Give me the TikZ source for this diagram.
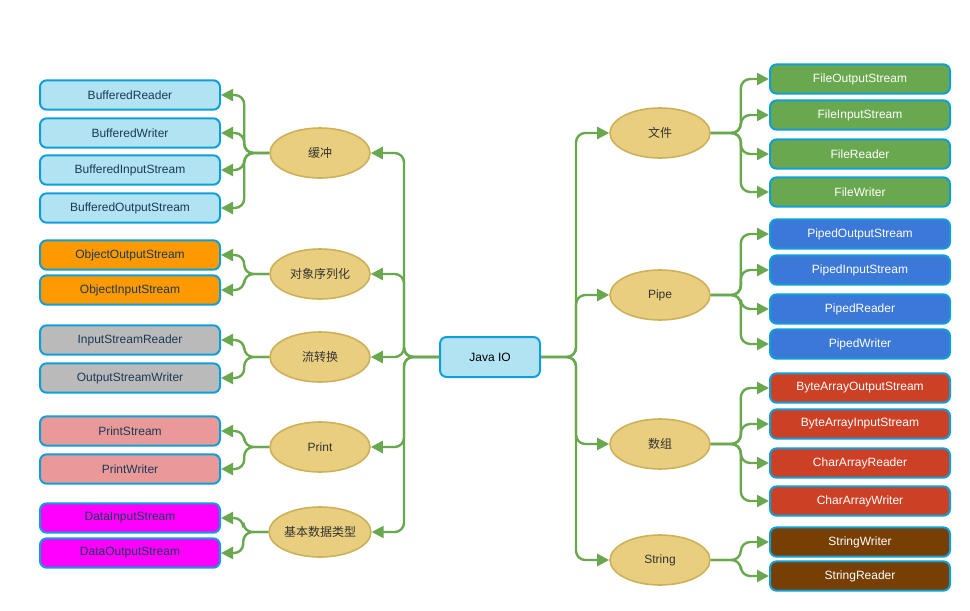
\documentclass[tikz,border=0pt]{standalone}
\usepackage{fontspec}
\setmainfont{Liberation Sans}
\newfontfamily\cjk{Noto Sans CJK SC}
\usetikzlibrary{arrows.meta,shapes.geometric}
\definecolor{lblue}{HTML}{B1E3F3}
\definecolor{bstroke}{HTML}{0E9FD8}
\definecolor{dtext}{HTML}{1B3A57}
\definecolor{corange}{HTML}{FF9900}
\definecolor{cgray}{HTML}{BABABA}
\definecolor{cpink}{HTML}{EA9999}
\definecolor{cmag}{HTML}{FF00FF}
\definecolor{cgreen}{HTML}{6AA84F}
\definecolor{cblue}{HTML}{3C78D8}
\definecolor{cred}{HTML}{CC4125}
\definecolor{cbrown}{HTML}{783F04}
\definecolor{efill}{HTML}{E8CE7E}
\definecolor{estroke}{HTML}{CDB15A}
\definecolor{edge}{HTML}{6AA84F}
\tikzset{
  leaf/.style={draw=bstroke, line width=1.5pt, rounded corners=5pt, minimum width=135pt, minimum height=22pt, inner sep=0pt, font=\fontsize{9}{11}\selectfont},
  lightleaf/.style={leaf, text=dtext},
  darkleaf/.style={leaf, text=white},
  cat/.style={ellipse, draw=estroke, fill=efill, line width=1.2pt, minimum width=75pt, minimum height=37.5pt, inner sep=0pt, text=black!80, font=\fontsize{9}{11}\selectfont},
  rootbox/.style={leaf, fill=lblue, minimum width=75pt, minimum height=30pt},
  conn/.style={draw=edge, line width=1.8pt, rounded corners=7pt, -{Triangle[length=9pt,width=9pt]}},
}
\begin{document}
\begin{tikzpicture}[x=0.75pt,y=-0.75pt]
\useasboundingbox (0,0) rectangle (970,610);
% root
\node[rootbox] (jio) at (490,357) {Java IO};
% left categories
\node[cat] (c1) at (320,153) {\cjk 缓冲};
\node[cat] (c2) at (320,274) {\cjk 对象序列化};
\node[cat] (c3) at (320,357) {\cjk 流转换};
\node[cat] (c4) at (320,447) {Print};
\node[cat] (c5) at (320,532) {\cjk 基本数据类型};
% right categories
\node[cat] (d1) at (660,133) {\cjk 文件};
\node[cat] (d2) at (660,295) {Pipe};
\node[cat] (d3) at (660,444) {\cjk 数组};
\node[cat] (d4) at (660,560) {String};
% left leaves
\node[lightleaf, fill=lblue] (l1) at (130,95) {BufferedReader};
\node[lightleaf, fill=lblue] (l2) at (130,133) {BufferedWriter};
\node[lightleaf, fill=lblue] (l3) at (130,170) {BufferedInputStream};
\node[lightleaf, fill=lblue] (l4) at (130,208) {BufferedOutputStream};
\node[lightleaf, fill=corange] (l5) at (130,255) {ObjectOutputStream};
\node[lightleaf, fill=corange] (l6) at (130,290) {ObjectInputStream};
\node[lightleaf, fill=cgray] (l7) at (130,340) {InputStreamReader};
\node[lightleaf, fill=cgray] (l8) at (130,378) {OutputStreamWriter};
\node[lightleaf, fill=cpink] (l9) at (130,431) {PrintStream};
\node[lightleaf, fill=cpink] (l10) at (130,469) {PrintWriter};
\node[lightleaf, fill=cmag] (l11) at (130,518) {DataInputStream};
\node[lightleaf, fill=cmag] (l12) at (130,553) {DataOutputStream};
% right leaves
\node[darkleaf, fill=cgreen] (r1) at (860,79) {FileOutputStream};
\node[darkleaf, fill=cgreen] (r2) at (860,115) {FileInputStream};
\node[darkleaf, fill=cgreen] (r3) at (860,154) {FileReader};
\node[darkleaf, fill=cgreen] (r4) at (860,192) {FileWriter};
\node[darkleaf, fill=cblue] (r5) at (860,234) {PipedOutputStream};
\node[darkleaf, fill=cblue] (r6) at (860,270) {PipedInputStream};
\node[darkleaf, fill=cblue] (r7) at (860,309) {PipedReader};
\node[darkleaf, fill=cblue] (r8) at (860,344) {PipedWriter};
\node[darkleaf, fill=cred] (r9) at (860,388) {ByteArrayOutputStream};
\node[darkleaf, fill=cred] (r10) at (860,424) {ByteArrayInputStream};
\node[darkleaf, fill=cred] (r11) at (860,463) {CharArrayReader};
\node[darkleaf, fill=cred] (r12) at (860,501) {CharArrayWriter};
\node[darkleaf, fill=cbrown] (r13) at (860,542) {StringWriter};
\node[darkleaf, fill=cbrown] (r14) at (860,576) {StringReader};
% root to categories
\foreach \c in {c1,c2,c3,c4,c5}
  \draw[conn] (jio.west) -- ++(-35,0) |- (\c.east);
\foreach \c in {d1,d2,d3,d4}
  \draw[conn] (jio.east) -- ++(35,0) |- (\c.west);
% categories to leaves
\foreach \c/\l in {c1/l1,c1/l2,c1/l3,c1/l4,c2/l5,c2/l6,c3/l7,c3/l8,c4/l9,c4/l10,c5/l11,c5/l12}
  \draw[conn] (\c.west) -- ++(-25,0) |- (\l.east);
\foreach \c/\l in {d1/r1,d1/r2,d1/r3,d1/r4,d2/r5,d2/r6,d2/r7,d2/r8,d3/r9,d3/r10,d3/r11,d3/r12,d4/r13,d4/r14}
  \draw[conn] (\c.east) -- ++(30,0) |- (\l.west);
\end{tikzpicture}
\end{document}
